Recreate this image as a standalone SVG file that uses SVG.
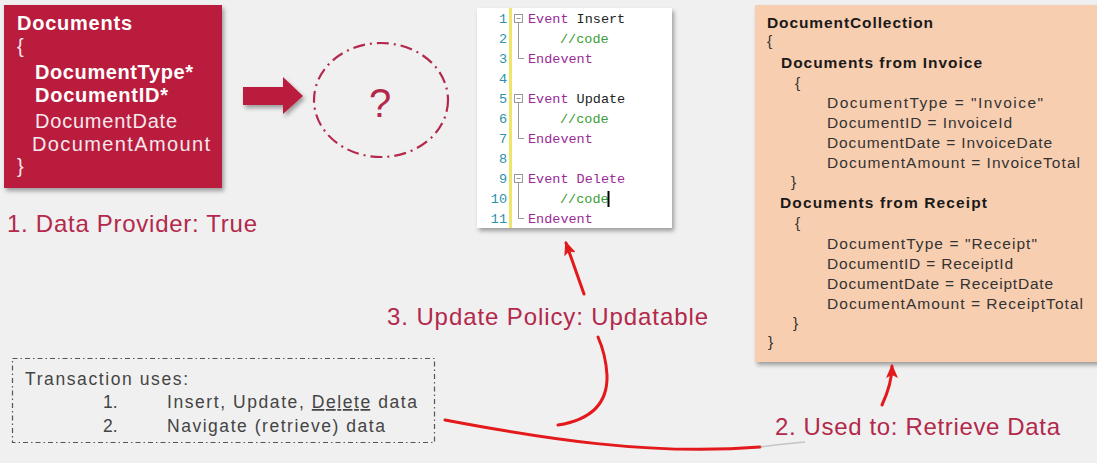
<svg xmlns="http://www.w3.org/2000/svg" width="1097" height="463" viewBox="0 0 1097 463">
<defs>
<filter id="sh" x="-10%" y="-10%" width="130%" height="130%">
<feDropShadow dx="2" dy="3" stdDeviation="2" flood-color="#000" flood-opacity="0.35"/>
</filter>
<marker id="ah" viewBox="0 0 14 12" refX="12" refY="6" markerWidth="14" markerHeight="12" markerUnits="userSpaceOnUse" orient="auto">
<path d="M0,0 L14,6 L0,12 L3,6 Z" fill="#e3191c"/>
</marker>
<style>
.wb{font-family:"Liberation Sans",Arial,sans-serif;font-weight:bold;font-size:20px;fill:#fff}
.wn{font-family:"Liberation Sans",Arial,sans-serif;font-size:20px;fill:#f6e8ec}
.lab{font-family:"Liberation Sans",Arial,sans-serif;font-size:24px;fill:#b3284b}
.ob{font-family:"Liberation Sans",Arial,sans-serif;font-weight:bold;font-size:15.5px;fill:#1a1a1a}
.on{font-family:"Liberation Sans",Arial,sans-serif;font-size:15.5px;fill:#333}
.tx{font-family:"Liberation Sans",Arial,sans-serif;font-size:17.5px;fill:#444}
.mono{font-family:"Liberation Mono","DejaVu Sans Mono",monospace;font-size:13.5px}
.ln{fill:#2b91af;text-anchor:end}
.kw{fill:#9b2a97}
.id{fill:#222}
.cm{fill:#3a9b3a}
.conn{fill:none;stroke:#e3191c;stroke-width:3;stroke-linecap:round}
.tree{fill:none;stroke:#999;stroke-width:1}
</style>
</defs>
<rect x="0" y="0" width="1097" height="463" fill="#f0f0f0"/>

<g id="documents">
<rect x="4" y="5" width="218" height="183" fill="#b91c3d" filter="url(#sh)"/>
<text class="wb" x="17" y="30" textLength="115">Documents</text>
<text class="wn" x="17" y="53">{</text>
<text class="wb" x="35" y="79" textLength="158">DocumentType*</text>
<text class="wb" x="35" y="102" textLength="133">DocumentID*</text>
<text class="wn" x="35" y="128" textLength="142">DocumentDate</text>
<text class="wn" x="32" y="151" textLength="178">DocumentAmount</text>
<text class="wn" x="17" y="173">}</text>
</g>

<g id="label-data-provider">
<text class="lab" x="7" y="232" textLength="250">1. Data Provider: True</text>
</g>

<g id="block-arrow">
<polygon points="243,87 283,87 283,77 303,96 283,114 283,105 243,105" fill="#b91c3d" filter="url(#sh)"/>
</g>

<g id="question">
<ellipse cx="381" cy="100" rx="67" ry="57" fill="none" stroke="#b3284b" stroke-width="2.2" stroke-dasharray="12,5,2,5"/>
<text x="380" y="117" text-anchor="middle" font-family="Liberation Sans, Arial, sans-serif" font-size="40" fill="#b3284b">?</text>
</g>

<g id="code">
<rect x="477" y="8" width="195" height="220" fill="#fff" filter="url(#sh)"/>
<rect x="509" y="8" width="3" height="220" fill="#efe56a"/>
<g class="mono">
<text class="ln" x="507" y="23">1</text>
<text class="ln" x="507" y="43">2</text>
<text class="ln" x="507" y="63">3</text>
<text class="ln" x="507" y="83">4</text>
<text class="ln" x="507" y="103">5</text>
<text class="ln" x="507" y="123">6</text>
<text class="ln" x="507" y="143">7</text>
<text class="ln" x="507" y="163">8</text>
<text class="ln" x="507" y="183">9</text>
<text class="ln" x="507" y="203">10</text>
<text class="ln" x="507" y="223">11</text>
<text x="528" y="23"><tspan class="kw">Event</tspan><tspan class="id"> Insert</tspan></text>
<text class="cm" x="560" y="43">//code</text>
<text class="kw" x="528" y="63">Endevent</text>
<text x="528" y="103"><tspan class="kw">Event</tspan><tspan class="id"> Update</tspan></text>
<text class="cm" x="560" y="123">//code</text>
<text class="kw" x="528" y="143">Endevent</text>
<text x="528" y="183"><tspan class="kw">Event Delete</tspan></text>
<text class="cm" x="560" y="203">//code</text>
<text class="kw" x="528" y="223">Endevent</text>
</g>
<g class="tree">
<rect x="514.5" y="14.5" width="8" height="8" fill="#fff"/>
<path d="M516.5,18.5 H520.5"/>
<path d="M518.5,22.5 V58.5 H524"/>
<rect x="514.5" y="94.5" width="8" height="8" fill="#fff"/>
<path d="M516.5,98.5 H520.5"/>
<path d="M518.5,102.5 V138.5 H524"/>
<rect x="514.5" y="174.5" width="8" height="8" fill="#fff"/>
<path d="M516.5,178.5 H520.5"/>
<path d="M518.5,182.5 V218.5 H524"/>
</g>
<rect x="607.5" y="191" width="2" height="16" fill="#000"/>
</g>

<g id="document-collection">
<rect x="755" y="5" width="350" height="357" fill="#f8ceb0" filter="url(#sh)"/>
<text class="ob" x="767" y="28" textLength="166">DocumentCollection</text>
<text class="on" x="767" y="46">{</text>
<text class="ob" x="781" y="68" textLength="201">Documents from Invoice</text>
<text class="on" x="795" y="88">{</text>
<text class="on" x="827" y="108" textLength="216">DocumentType = "Invoice"</text>
<text class="on" x="827" y="128" textLength="185">DocumentID = InvoiceId</text>
<text class="on" x="827" y="148" textLength="225">DocumentDate = InvoiceDate</text>
<text class="on" x="827" y="168" textLength="253">DocumentAmount = InvoiceTotal</text>
<text class="on" x="791" y="187">}</text>
<text class="ob" x="780" y="208" textLength="207">Documents from Receipt</text>
<text class="on" x="795" y="228">{</text>
<text class="on" x="827" y="249" textLength="210">DocumentType = "Receipt"</text>
<text class="on" x="827" y="269" textLength="186">DocumentID = ReceiptId</text>
<text class="on" x="827" y="289" textLength="226">DocumentDate = ReceiptDate</text>
<text class="on" x="827" y="309" textLength="256">DocumentAmount = ReceiptTotal</text>
<text class="on" x="793" y="328">}</text>
<text class="on" x="768" y="347">}</text>
</g>

<g id="transaction">
<rect x="12.5" y="358.5" width="422" height="84" fill="none" stroke="#555" stroke-width="1.2" stroke-dasharray="5,3,1.5,3"/>
<text class="tx" x="25" y="385" textLength="163">Transaction uses:</text>
<text class="tx" x="103" y="408">1.</text>
<text class="tx" x="167" y="408" textLength="250">Insert, Update, <tspan text-decoration="underline">Delete</tspan> data</text>
<text class="tx" x="103" y="432">2.</text>
<text class="tx" x="167" y="432" textLength="218">Navigate (retrieve) data</text>
</g>

<g id="label-update-policy">
<text class="lab" x="387" y="325" textLength="321">3. Update Policy: Updatable</text>
</g>

<g id="label-used-to">
<text class="lab" x="775" y="435" textLength="285">2. Used to: Retrieve Data</text>
</g>

<g id="connectors">
<path class="conn" d="M445,420 C540,438 650,456 760,447"/>
<path d="M760,447 C775,445 790,443 805,442" fill="none" stroke="#999" stroke-width="1.5" stroke-opacity="0.5"/>
<path class="conn" d="M558,425 C590,420 608,405 607,375 C606,358 602,346 598,337"/>
<path class="conn" d="M584,294 L566,243" marker-end="url(#ah)"/>
<path class="conn" d="M882,405 C888,392 892,380 892,366" marker-end="url(#ah)"/>
</g>
</svg>
